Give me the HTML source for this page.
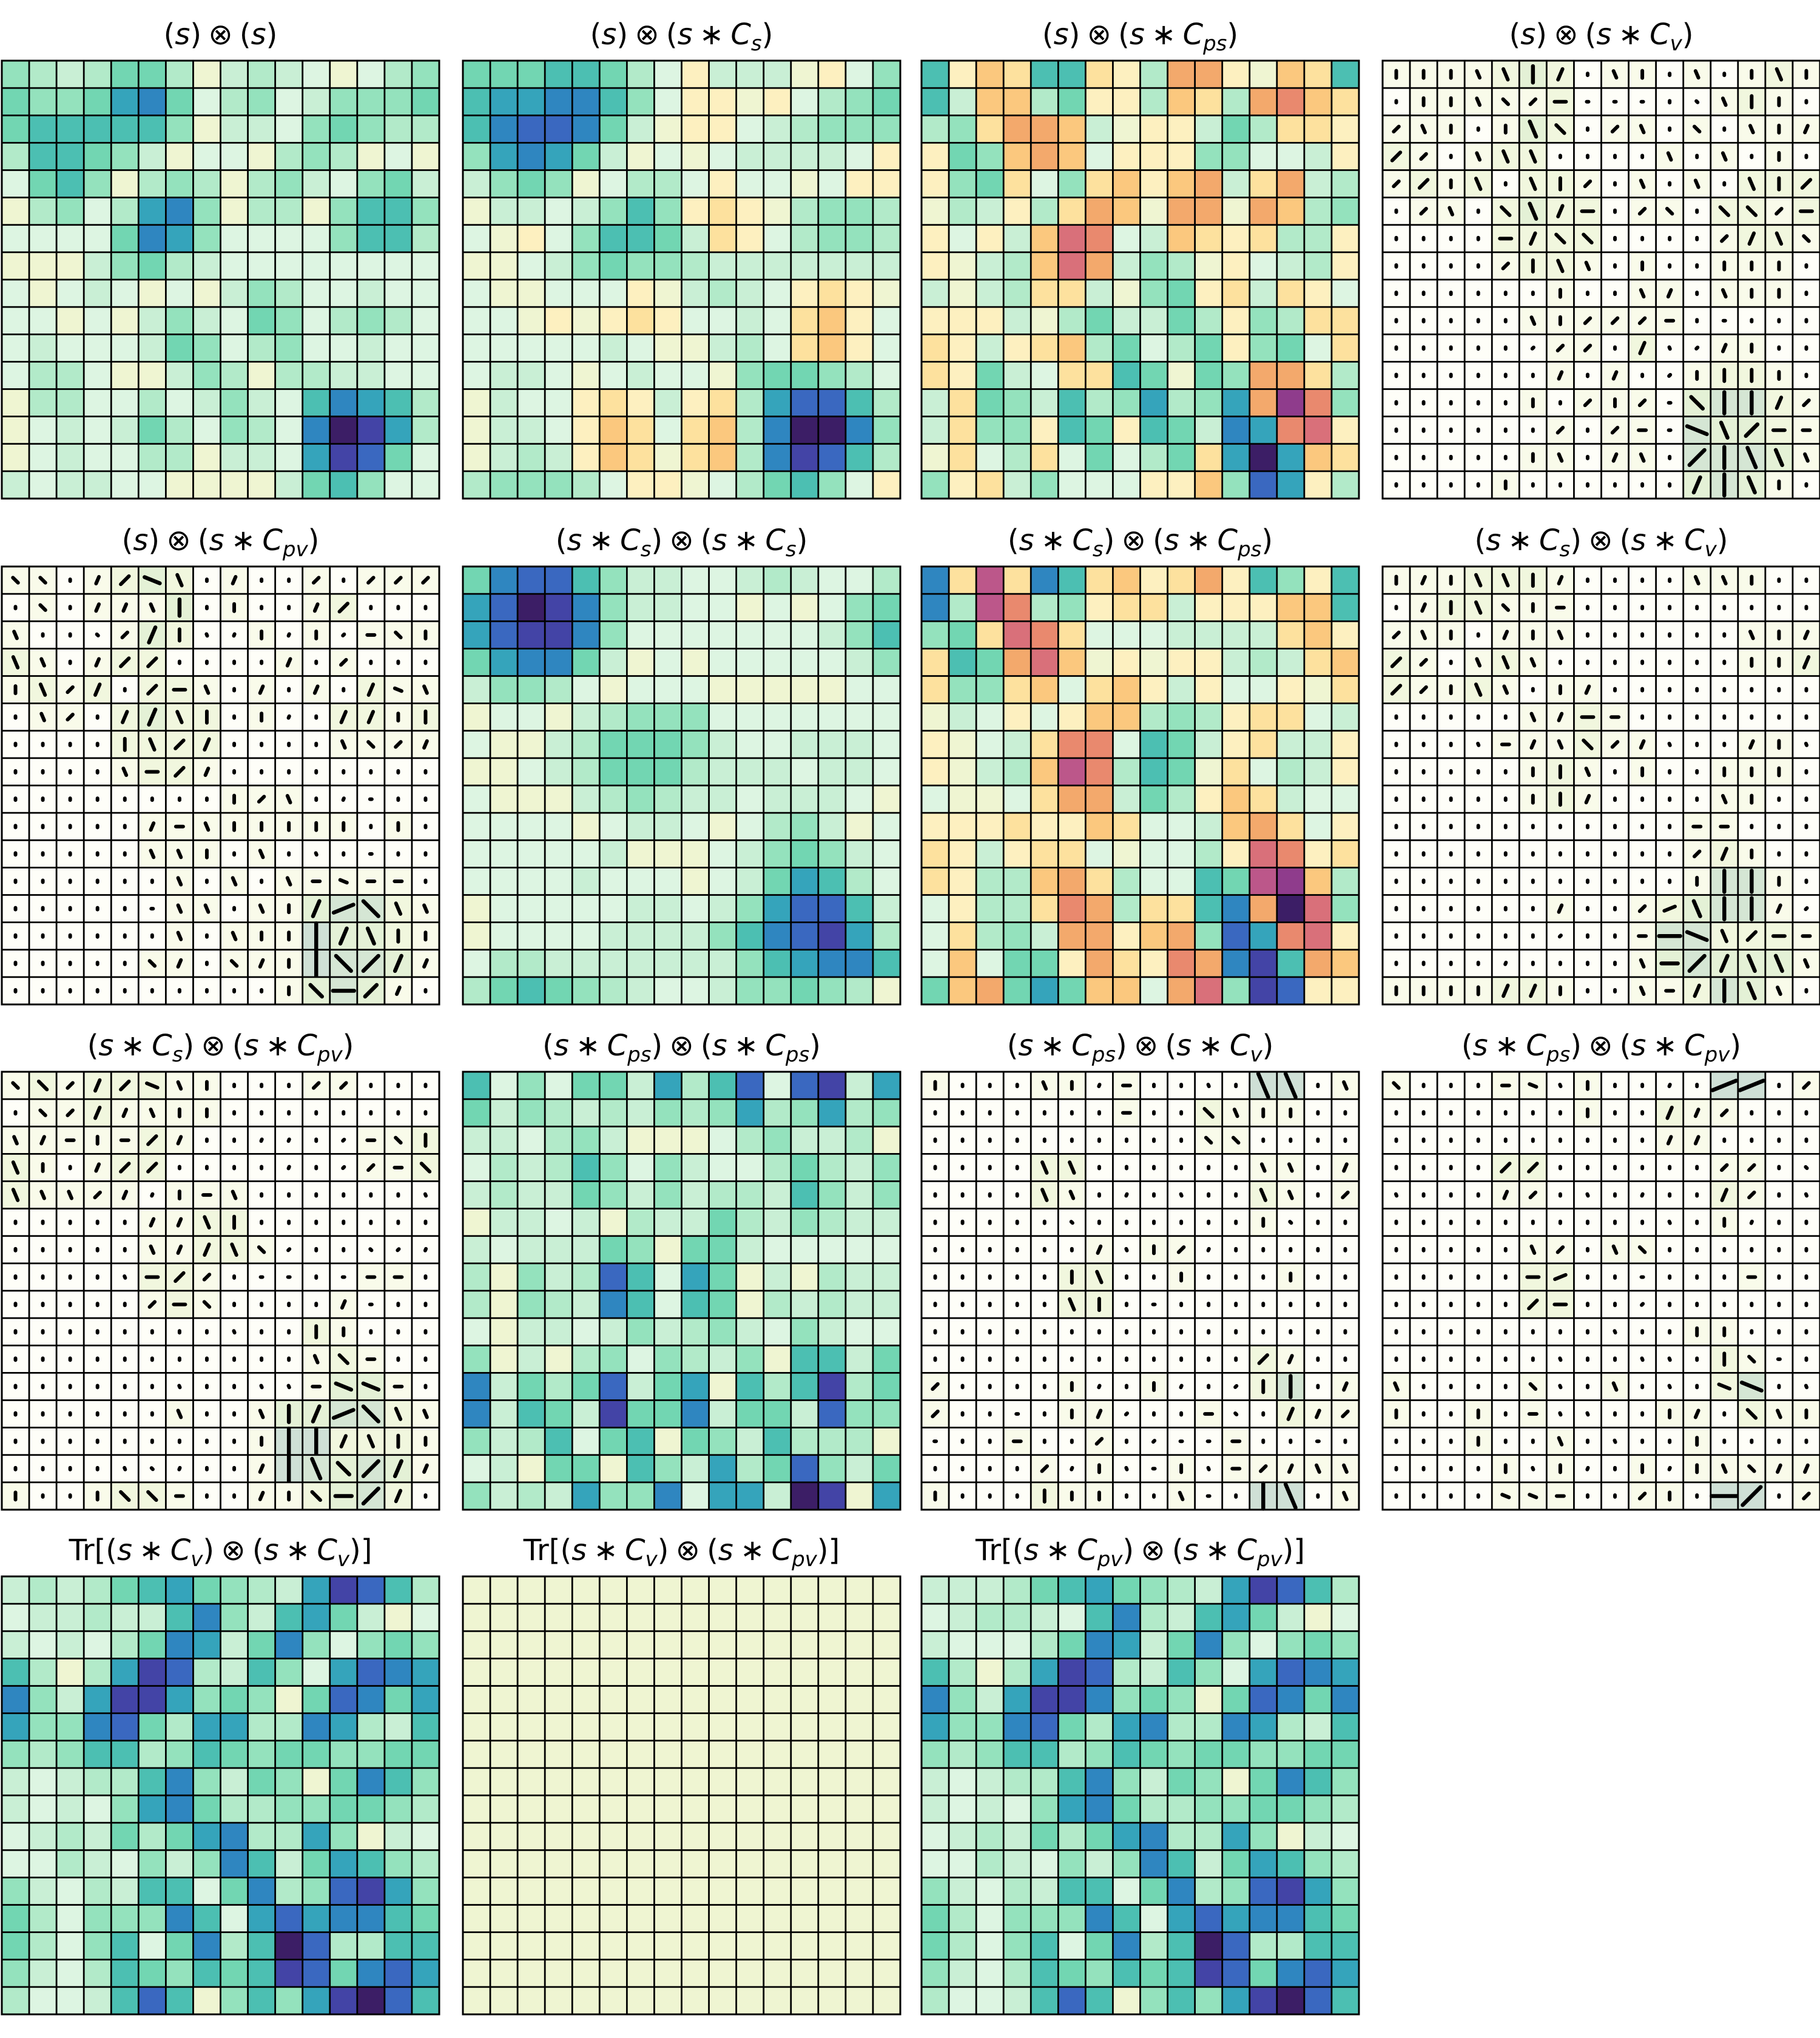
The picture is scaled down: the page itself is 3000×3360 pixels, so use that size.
<!DOCTYPE html>
<html><head><meta charset="utf-8">
<style>
html,body{margin:0;padding:0;background:#fff;}
#fig{position:relative;width:3000px;height:3360px;overflow:hidden;background:#fff;}
.title{position:absolute;width:721px;text-align:center;font-family:"DejaVu Sans","Liberation Sans",sans-serif;font-size:48px;color:#000;white-space:nowrap;line-height:1;word-spacing:-4px;}
.title i{font-style:italic;}
.title sub{font-size:34px;font-style:italic;vertical-align:-10px;line-height:0;}
svg{position:absolute;left:0;top:0;}
</style></head>
<body>
<div id="fig">
<svg id="svg" width="3000" height="3360"></svg>
</div>
<script>
// ---- data: heatmap level codes per row (0..B positive scale, a..h negative scale) ----
const P1 = ["4323553023210134","5445785134124445","5666664022145433","3665420110343010","1564034303421452","0341378403304664","1111587411114663","0002453211111111","1012101024311211","1101024215413431","1211125413411211","1331002430332211","0331131242168763","012125314318BA73","012113302217A951","2122110000256411"];
const P2 = ["5556653 1a222 0a14","677886 41aa0a1345","6899852 0aa123444","478752010122221a1","24540133 1a1101aa","022124 64aba034 43","10a146652ba13443","0012454432222222","100111a0232 1aba0","1 10a0aba1121bca1","1111121002 31bca1","1221012110455431","02 11aba2ab379963","0221acb1bc38BB84","0232acb0bc38A963","34443 1aa01356 41a"].map(s=>s.replace(/ /g,''));
const P3 = ["6acb66ba3dda0cb6","62cc35aa3cb3decb5".slice(0,16),"34bddc20aa253bba","a54cdc1aaa44112aa".slice(0,16),"a45b14bcacd2bd23","032a3bdc0dd0dc34","a1a2cfe12cbab33a","a023cfd2430a123a","2023bb2045ab2ba1","aaa2035225 3a43bb".replace(' ',''),"ba2abc351 35a451b".replace(' ',''),"ba521bb650 54ddb3".replace(' ',''),"2b5426347347dhe4","2b44a65a6528 7efa".replace(' ',''),"0b13b1513 5b7B7cb".replace(' ',''),"4ab2411 1aac497a3".replace(' ','')];
const P6 = ["589964221123 2113".replace(' ',''),"79BA84221101 0145".replace(' ',''),"79AA84111111 1246".replace(' ',''),"5788520101111124","2443101110000011","0110234441111111","1002355542112221","0012355532221221","1000234322122210","1111012210134201","1111120001245421","1111211101257631","0111112212479962","01111222246 89A73".replace(' ',''),"1332222222467 8863".replace(' ',''),"3565432112445430"];
const P7 = ["8bgb86bcabda64a6","83ge34abb2aaacc6","45bfeb1112222bca","b65dfc0a0aa232bc","b44bc1bca2a11a0b","021a1acc343abb12","a012bee1652ab22a","a023cge3650b132a","1001bdd253acb211","aaabaacb112cdb1a","ba2abb10113afeab","ba33cdb31165ghc3","1a33bed3bb68dBf4","1b342dda cd497efa".replace(' ',''),"1c155adbaed8A6dc","5cd575cc1df4A9aa"];
const P10 = ["614155273691 9A27".replace(' ',''),"5243232434734734","2213420001342230","1323641421135324","2322542423326424","0221203225324322","2122254055211111","3042396175020322","3043286165032322","1022124234214211","4020341432406625","8253592570636A35","826 52A55825529 44".replace(/ /g,''),"4236156054263330","1205506427359425","423274481772BA07"];
const P13 = ["232356754327A963","1223226842675201","2121358725841454","6303 7A93264179 87".replace(/ /g,''),"84 27AA745405 9857".replace(/ /g,''),"7448953773387326","4346634654554455","2123368425405864","2121478533445543","1232535783374021","1132142486257643","4213266158349A74","5314448617978865","53146158 36B93366".replace(' ',''),"4213654656A95897","3112696046 47AB96".replace(' ','')];
const P14 = Array(16).fill("0000000000000000");
const P15 = ["222356754327A963","1233216832675201","2111358725841454","63037A9326417987","8427AA8454059858","7448953783387326","4346634654554455","2123368425405864","2121478533445543","1232535783374021","1132142486257643","4213266158349A74","5314448617978865","5314615836B93366","4213654656A95897","3112696046 47AB96".replace(' ','')];

// ---- vector panels: magnitude (0..5) and direction codes ----
const V4M = ["1111232011010121","0111112000001210","1110132011010111","2101220000101010","1212022101010222","0110232201102212","0000222200001221","0000122101001110","0000001001101110","0000011111100000","0000001102001100","0000001010012210","0000010111034421","0000001011043321","0000011011044431","0000100000034310"];
const V4D = ["vvvddvavdvvdvvdv","vvvdlrhhhhvldvvv","rdvvvdlvrdvlvdva","rr.ddd....d.d...","rrvd.dvr.d.d.dvr",".rd.ldah.rl.llrh","....hall....radl","....rvdd.v..vvv.","......v..da.dvv.",".....dvrrrh.h...",".....rrr.adravv.","......a.a.rvvvv.",".....v.rvrhlvvar","......r.rhhcdrhh",".....vd.ad.rvddd","v...v......avdv."];
const V5M = ["1101232010010111","0101113010012000","1000132001010111","2101220000101000","1212022101010211","0110232201002212","0000222200001111","0000122100000000","0000000011100000","0000011111111010","0000011101000000","0000001010111110","0000001101134421","0000001011153321","0000011011154431","0000000000134310"];
const V5D = ["ll.arcd.a..r.rrr",".l.aadv.vv.ar...","d..lra.da.a.rhl.","dd.arr....a.r...","vdra.rhd.a.a.acd",".dr.aadv.va.aavv","....vdra....dlra","....dhra........","........vrd.ah..",".....ahdvvv.v.v.",".....ddv.d.d.h..",".v....d.d.dhchh.",".v.v.hdd.dvabldd","......d.dvvvadvv",".....la.lavvlraa","..........vlhra."];
const V8M = ["1112221000011100","0122111000000000","1110111000000111","2101210000000112","2112101100000000","0000011210000000","0000111211000110","0000012101001110","0000012100001100","0000000000011000","0000000000012100","0000000000014410","0000001001234410","0000000001442221","0000000001343331","1111221001124310"];
const V8D = ["vavddva....ddvvv",".avdl.h.........","rdv.avd......dva","rr.ddd.......vva","rrvdd.va........",".....dahh.......","...dhadlrad..avd",".....vvd.vv.vvv.",".....vva....dv..","...........hh...","...........rav..","...........vvvv.",".....va..rbdvvar","......r..hhcdrhh","....a....dhraddd","vvvvaav..dhavdd."];
const V9M = ["1212221100011000","0112111100000000","1111121000000112","2101220000000112","2111101110000000","0000011220000000","0000011221000000","0000022100000110","0000012100001000","0000000000021000","0000000000012100","0000000000013310","0000001001334421","0000000001552221","0000000001543431","1001221001123420"];
const V9D = ["llrarcdv...rr...",".lraadvv........","dahvhrav.aa.rhl.","dv.arr....a.rrhl","dddraa.hdv.....d",".....aadvv......","....vdaadlr..lra","....dhrr.hh.hhh.",".....rhlv..vah..","........d...vv..","...........dlh..","......d..ddhcch.","......d..dvabldd",".........vvvadvv","....dla..avdlraa","....llh..avlhra."];
const V11M = ["1000110100005501","0000000100211100","0000000000110000","0000220000001101","0000210000002101","0000000000001000","0000001011000000","0000022001000100","0000022000000000","0000000000000000","0000000000002100","1000010010002401","1000011000100211","0001001000010000","0000101001011111","1000211001005501"];
const V11D = ["v...dvah.vd.dd.d",".......h..ldvv..","..........ll....","....dd......dd.a","....dd.a.d..dd.r",".....l.......l..","......ad.ra.....",".....vd..v...v..",".....dv.h.......","................","............rav.","r.....a..a.r.vva","r..h.var..hl.aar","h..h..r.rhhh..h.","....ra.dh.dhradd","v...vvv..dh.vd.d"];
const V12M = ["1000110100005501","0000000100211000","0000000000110000","0000220000001100","0000110000002100","0000000000001000","0000011011000000","0000022000000100","0000022000000000","0000000000011000","0000000000002100","1000010010002400","1001010000110211","0001001000010000","0000101001011111","0000111001105501"];
const V12D = ["l...hcdv..a.bb.r",".......v..aar...","..........aa....","....rr......rr.l","d...ar.d.a..ar.d","........vvd..a.v",".....dr.dl......",".....hb..h...h..",".....rh.vr......","........dv..vv..","......d.vdd..lh.","d....ld.d.d.cc.d","v..v.hdd..va.ldv","v..v..d.dvvv..v.","....vd.av.avdlaa","....cch..rv.hr.r"];

const TITLES = [
 '(<i>s</i>) ⊗ (<i>s</i>)',
 '(<i>s</i>) ⊗ (<i>s</i> ∗ <i>C</i><sub>s</sub>)',
 '(<i>s</i>) ⊗ (<i>s</i> ∗ <i>C</i><sub>ps</sub>)',
 '(<i>s</i>) ⊗ (<i>s</i> ∗ <i>C</i><sub>v</sub>)',
 '(<i>s</i>) ⊗ (<i>s</i> ∗ <i>C</i><sub>pv</sub>)',
 '(<i>s</i> ∗ <i>C</i><sub>s</sub>) ⊗ (<i>s</i> ∗ <i>C</i><sub>s</sub>)',
 '(<i>s</i> ∗ <i>C</i><sub>s</sub>) ⊗ (<i>s</i> ∗ <i>C</i><sub>ps</sub>)',
 '(<i>s</i> ∗ <i>C</i><sub>s</sub>) ⊗ (<i>s</i> ∗ <i>C</i><sub>v</sub>)',
 '(<i>s</i> ∗ <i>C</i><sub>s</sub>) ⊗ (<i>s</i> ∗ <i>C</i><sub>pv</sub>)',
 '(<i>s</i> ∗ <i>C</i><sub>ps</sub>) ⊗ (<i>s</i> ∗ <i>C</i><sub>ps</sub>)',
 '(<i>s</i> ∗ <i>C</i><sub>ps</sub>) ⊗ (<i>s</i> ∗ <i>C</i><sub>v</sub>)',
 '(<i>s</i> ∗ <i>C</i><sub>ps</sub>) ⊗ (<i>s</i> ∗ <i>C</i><sub>pv</sub>)',
 'Tr[(<i>s</i> ∗ <i>C</i><sub>v</sub>) ⊗ (<i>s</i> ∗ <i>C</i><sub>v</sub>)]',
 'Tr[(<i>s</i> ∗ <i>C</i><sub>v</sub>) ⊗ (<i>s</i> ∗ <i>C</i><sub>pv</sub>)]',
 'Tr[(<i>s</i> ∗ <i>C</i><sub>pv</sub>) ⊗ (<i>s</i> ∗ <i>C</i><sub>pv</sub>)]'
];

const PANELS = [
 {t:'heat',g:P1},{t:'heat',g:P2},{t:'heat',g:P3},{t:'vec',m:V4M,d:V4D},
 {t:'vec',m:V5M,d:V5D},{t:'heat',g:P6},{t:'heat',g:P7},{t:'vec',m:V8M,d:V8D},
 {t:'vec',m:V9M,d:V9D},{t:'heat',g:P10},{t:'vec',m:V11M,d:V11D},{t:'vec',m:V12M,d:V12D},
 {t:'heat',g:P13},{t:'heat',g:P14},{t:'heat',g:P15}
];

const CMAP = {'0':'#eff5d2','1':'#ddf5e2','2':'#c9efd5','3':'#b2eac9','4':'#94e2bd','5':'#72d6b2','6':'#4cbfb2','7':'#35a4bb','8':'#2f86c0','9':'#3a68c0','A':'#4344a6','B':'#3c1e66',
 'a':'#fdf0c0','b':'#fde19e','c':'#fbc87e','d':'#f3a96c','e':'#e9896e','f':'#d9707a','g':'#bc578a','h':'#8f3c8c'};
const VBG = ['#fefef8','#f9fbea','#f1f7de','#e4f1d6','#d5e6d4','#cfe0d6'];
const VLEN = [3,12,19,27,35,42];
const ANG = {v:90,a:67,r:45,b:22,h:0,c:-22,l:-45,d:-67,'.':90};

const COLX = [3,763,1519,2279], ROWY = [100,934,1767,2599];
const PW = 721, PH = 722, N = 16;
const NS = 'http://www.w3.org/2000/svg';
const svg = document.getElementById('svg');
const fig = document.getElementById('fig');

function mk(tag, attrs){const e=document.createElementNS(NS,tag);for(const k in attrs)e.setAttribute(k,attrs[k]);return e;}

PANELS.forEach((p, i) => {
  const x0 = COLX[i % 4], y0 = ROWY[Math.floor(i / 4)];
  const cw = PW / N, ch = PH / N;
  const xs = c => x0 + c * cw, ys = r => y0 + r * ch;
  const g = mk('g', {});
  
  
  svg.appendChild(g);
  for (let r = 0; r < N; r++) {
    for (let c = 0; c < N; c++) {
      let fill;
      if (p.t === 'heat') fill = CMAP[p.g[r][c]] || CMAP['0'];
      else fill = VBG[+p.m[r][c]] || VBG[0];
      const rect = mk('rect', {x: xs(c), y: ys(r), width: cw, height: ch, fill: fill});
      
      
      g.appendChild(rect);
      if (p.t === 'vec') {
        const m = +p.m[r][c];
        const a = (ANG[p.d[r][c]] ?? 90) * Math.PI / 180;
        const L = VLEN[m] / 2, cx = xs(c) + cw / 2, cy = ys(r) + ch / 2;
        const dx = Math.cos(a) * L, dy = -Math.sin(a) * L;
        const ln = mk('line', {x1: cx - dx, y1: cy - dy, x2: cx + dx, y2: cy + dy, stroke: '#000', 'stroke-width': m >= 3 ? 6.5 : 6, 'stroke-linecap': 'round'});
        
        
        g.appendChild(ln);
      }
    }
  }
  for (let k = 1; k < N; k++) {
    g.appendChild(mk('line', {x1: xs(k), y1: y0, x2: xs(k), y2: y0 + PH, stroke: '#000', 'stroke-width': 2.8}));
    g.appendChild(mk('line', {x1: x0, y1: ys(k), x2: x0 + PW, y2: ys(k), stroke: '#000', 'stroke-width': 2.8}));
  }
  const border = mk('rect', {x: x0, y: y0, width: PW, height: PH, fill: 'none', stroke: '#000', 'stroke-width': 3});
  
  
  g.appendChild(border);

  const t = document.createElement('div');
  t.className = 'title';
  t.style.left = x0 + 'px';
  t.style.top = (y0 - 67) + 'px';
  t.innerHTML = TITLES[i];
  
  
  fig.appendChild(t);
});
</script>
</body></html>
